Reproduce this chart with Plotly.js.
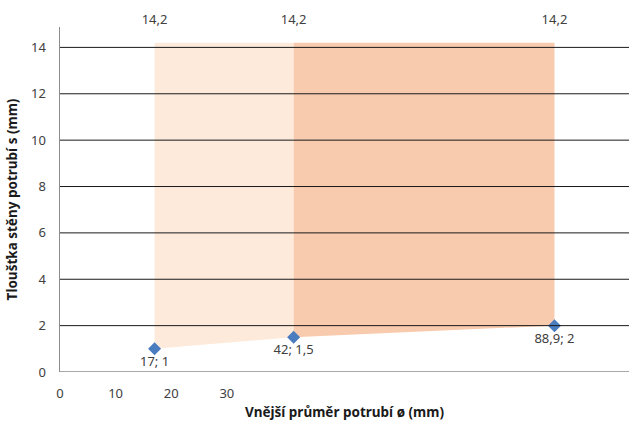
<!DOCTYPE html>
<html>
<head>
<meta charset="utf-8">
<script src="https://cdn.plot.ly/plotly-3.0.1.min.js"></script>
<style>html,body{margin:0;padding:0;background:#fff}#chart{width:629px;height:421px}</style>
</head>
<body>
<div id="chart"></div>
<script>
// Data
var diameters = [17, 42, 88.9];          // Vnější průměr potrubí ø (mm)
var wallMin   = [1, 1.5, 2];             // lower points (blue diamonds)
var wallMax   = [14.2, 14.2, 14.2];      // upper boundary
var xTickVals = [0, 10, 20, 30];
var yTickVals = [0, 2, 4, 6, 8, 10, 12, 14];
var bandColors = ['#FDEADA', '#F9CBAE'];

function fmt(v){ return String(v).replace('.', ','); }
var FONT = 'Noto Sans, Open Sans, sans-serif';

var traces = [];
for (var i = 0; i < diameters.length - 1; i++) {
  traces.push({
    type: 'scatter', mode: 'lines', hoverinfo: 'skip', showlegend: false,
    x: [diameters[i], diameters[i+1], diameters[i+1], diameters[i]],
    y: [wallMin[i], wallMin[i+1], wallMax[i+1], wallMax[i]],
    fill: 'toself', fillcolor: bandColors[i], line: {width: 0}
  });
}
traces.push({
  type: 'scatter', mode: 'markers+text', showlegend: false, cliponaxis: false,
  x: diameters, y: wallMax,
  marker: {size: 24, opacity: 0},
  text: wallMax.map(fmt), textposition: 'top center',
  textfont: {family: FONT, size: 13, color: '#404040'}
});
traces.push({
  type: 'scatter', mode: 'markers+text', showlegend: false, cliponaxis: false,
  x: diameters, y: wallMin,
  marker: {symbol: 'diamond', size: 10, color: '#4A7CC0'},
  text: diameters.map(function(d, k){ return fmt(d) + '; ' + fmt(wallMin[k]); }),
  textposition: 'bottom center',
  textfont: {family: FONT, size: 13, color: '#404040'}
});

var shapes = yTickVals.filter(function(v){ return v > 0; }).map(function(v){
  return {type: 'line', layer: 'above', xref: 'paper', yref: 'y', x0: 0, x1: 1, y0: v, y1: v,
          line: {color: '#1a1a1a', width: 1}};
});
shapes.push({type: 'line', layer: 'above', xref: 'paper', yref: 'y', x0: 0, x1: 1, y0: 0, y1: 0,
             line: {color: '#8c8c8c', width: 1.5}});

var layout = {
  width: 629, height: 421,
  margin: {l: 60, r: 0, t: 27, b: 49},
  paper_bgcolor: '#fff', plot_bgcolor: '#fff',
  font: {family: FONT, size: 13, color: '#404040'},
  showlegend: false,
  xaxis: {
    range: [0, 102.3], tickvals: xTickVals, ticktext: xTickVals.map(String),
    showgrid: false, zeroline: false, showline: false, ticks: '',
    ticklabelstandoff: 12,
    tickfont: {size: 13, color: '#404040'},
    title: {text: 'Vnější průměr potrubí ø (mm)', standoff: 10,
            font: {size: 13.5, color: '#1a1a1a', weight: 'bold'}}
  },
  yaxis: {
    range: [0, 14.88], tickvals: yTickVals, ticktext: yTickVals.map(String),
    showgrid: false, zeroline: false, showline: true, linecolor: '#8c8c8c', linewidth: 1.5,
    ticks: '', ticklabelstandoff: 10,
    tickfont: {size: 13, color: '#404040'},
    title: {text: 'Tloušťka stěny potrubí s (mm)', standoff: 10,
            font: {size: 13.5, color: '#1a1a1a', weight: 'bold'}}
  },
  shapes: shapes
};

Plotly.newPlot('chart', traces, layout, {displayModeBar: false, staticPlot: true});
</script>
</body>
</html>
